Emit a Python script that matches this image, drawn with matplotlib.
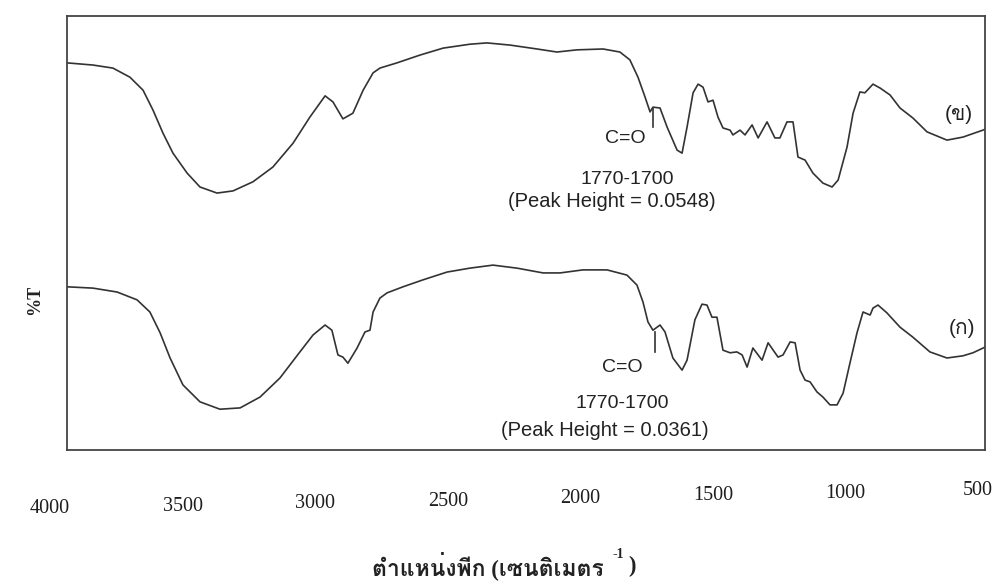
import matplotlib
matplotlib.use("Agg")
import matplotlib.pyplot as plt
import matplotlib.transforms as mtransforms
from matplotlib import font_manager
from matplotlib.ft2font import FT2Font

# ---------------- data ----------------
# upper spectrum (ข)
wn_upper = [4000, 3901, 3825, 3760, 3710, 3672, 3634, 3596, 3542, 3493, 3428, 3367,
            3291, 3215, 3138, 3074, 3016, 2986, 2948, 2910, 2871, 2833, 2807, 2742,
            2654, 2566, 2464, 2399, 2311, 2208, 2132, 2056, 1956, 1892, 1854, 1823,
            1796, 1777, 1766, 1739, 1712, 1674, 1655, 1636, 1613, 1594, 1575, 1556,
            1537, 1518, 1499, 1472, 1461, 1434, 1415, 1388, 1365, 1331, 1301, 1282,
            1255, 1232, 1213, 1186, 1156, 1118, 1083, 1060, 1026, 1003, 977, 958,
            927, 900, 862, 824, 775, 721, 645, 584, 508, 500]
t_upper = [89.2, 88.7, 88.0, 85.9, 82.9, 78.3, 73.0, 68.4, 63.8, 60.6, 59.2, 59.7,
           61.8, 65.2, 70.7, 76.7, 81.6, 80.2, 76.3, 77.6, 82.9, 86.9, 88.0, 89.2,
           91.0, 92.6, 93.5, 93.8, 93.3, 92.4, 91.7, 92.2, 92.4, 91.7, 89.9, 85.9,
           81.3, 77.9, 79.0, 78.8, 74.4, 69.1, 68.4, 74.4, 82.3, 84.3, 83.6, 80.2,
           80.6, 76.7, 74.2, 73.7, 72.6, 73.7, 72.6, 74.9, 71.9, 75.6, 71.9, 71.9,
           75.6, 75.6, 67.5, 66.8, 63.8, 61.5, 60.6, 62.2, 69.8, 77.6, 82.5, 82.3,
           84.3, 83.4, 81.8, 78.8, 76.5, 73.3, 71.4, 72.1, 73.7, 73.9]

# lower spectrum (ก)
wn_lower = [4000, 3901, 3809, 3733, 3684, 3645, 3607, 3558, 3493, 3417, 3340, 3264,
            3188, 3112, 3062, 3016, 2990, 2967, 2948, 2929, 2894, 2864, 2845, 2833,
            2807, 2780, 2719, 2643, 2551, 2464, 2376, 2284, 2185, 2120, 2033, 1941,
            1865, 1827, 1804, 1785, 1766, 1739, 1720, 1690, 1655, 1636, 1606, 1579,
            1560, 1541, 1522, 1499, 1472, 1446, 1426, 1407, 1385, 1350, 1327, 1289,
            1270, 1243, 1224, 1205, 1186, 1167, 1141, 1118, 1091, 1064, 1041, 1015,
            988, 965, 938, 927, 908, 874, 824, 775, 710, 645, 584, 546, 500]
t_lower = [37.6, 37.3, 36.4, 34.6, 31.8, 27.0, 21.2, 15.0, 11.1, 9.4, 9.7, 12.2,
           16.6, 22.6, 26.5, 28.8, 27.6, 21.9, 21.4, 20.0, 23.5, 27.2, 27.6, 31.8,
           35.0, 36.2, 37.6, 39.2, 41.0, 41.9, 42.6, 41.9, 40.8, 40.8, 41.5, 41.5,
           40.3, 38.0, 34.1, 29.5, 27.6, 28.8, 27.2, 21.2, 18.4, 20.7, 30.0, 33.6,
           33.4, 30.6, 30.6, 23.0, 22.4, 22.6, 21.9, 19.1, 23.5, 20.7, 24.7, 21.4,
           21.9, 24.9, 24.7, 18.4, 16.1, 15.7, 13.4, 12.2, 10.4, 10.4, 13.1, 20.0,
           27.0, 31.8, 31.1, 32.7, 33.4, 31.6, 28.3, 26.0, 22.6, 21.2, 21.7, 22.4, 23.7]

# C=O marker segments (wavenumber, T from, T to)
co_marker_wn = [1766, 1758]
co_marker_top = [78.8, 27.2]
co_marker_bot = [74.4, 22.6]

x_ticks = [4000, 3500, 3000, 2500, 2000, 1500, 1000, 500]
x_tick_labels = ["4000", "3500", "3000", "2500", "2000", "1500", "1000", "500"]

curve_labels = ["(ข)", "(ก)"]
peak_texts = ["(Peak Height = 0.0548)", "(Peak Height = 0.0361)"]
range_text = "1770-1700"
co_text = "C=O"
y_label = "%T"
x_label_main = "ตำแหน่งพีก (เซนติเมตร"
x_label_sup = "-1"
x_label_end = ")"


# ---------------- fonts ----------------
def family_with(ch):
    for f in font_manager.fontManager.ttflist:
        try:
            if ord(ch) in FT2Font(f.fname).get_charmap():
                return f.name
        except Exception:
            pass
    return None


thai = family_with("ต")
serif = ["Liberation Serif"] + ([thai] if thai else []) + ["DejaVu Serif"]
sans = ["Liberation Sans"] + ([thai] if thai else []) + ["DejaVu Sans"]

# ---------------- figure ----------------
W, H = 1007, 584
fig = plt.figure(figsize=(W / 100, H / 100), dpi=100)
L, R, T, B = 67, 985, 16, 450
ax = fig.add_axes([L / W, 1 - B / H, (R - L) / W, (B - T) / H])

line_col = "#333333"
ax.plot(wn_upper, t_upper, color=line_col, lw=1.2)
ax.plot(wn_lower, t_lower, color=line_col, lw=1.2)
for w, a, b in zip(co_marker_wn, co_marker_top, co_marker_bot):
    ax.plot([w, w], [a, b], color=line_col, lw=1.2)

ax.set_xlim(4000, 500)
ax.set_ylim(0, 100)
ax.set_yticks([])
ax.set_xticks(x_ticks)
ax.set_xticklabels(x_tick_labels)
ax.tick_params(axis="x", length=0, pad=29, labelsize=14.5, labelcolor="#1e1e1e")
n = len(x_ticks)
for i, lab in enumerate(ax.get_xticklabels()):
    lab.set_fontfamily(serif)
    # the scanned axis is slightly tilted: left labels sit lower than right ones
    dx = -17 + 10 * i / (n - 1)
    dy = -9 + 18 * i / (n - 1)
    off = mtransforms.ScaledTranslation(dx / 100, dy / 100, fig.dpi_scale_trans)
    lab.set_transform(lab.get_transform() + off)
for sp in ax.spines.values():
    sp.set_color("#444444")
    sp.set_linewidth(1.3)

txt_col = "#222222"
fs = 14
# annotations upper
ax.text(1873, 71.7, co_text, ha="center", va="center", fontsize=fs, family=sans, color=txt_col)
ax.text(1865, 62.4, range_text, ha="center", va="center", fontsize=fs, family=sans, color=txt_col)
ax.text(1922, 57.2, peak_texts[0], ha="center", va="center", fontsize=14.5, family=sans, color=txt_col)
ax.text(599, 77.2, curve_labels[0], ha="center", va="center", fontsize=15, family=sans, color=txt_col)
# annotations lower
ax.text(1884, 19.1, co_text, ha="center", va="center", fontsize=fs, family=sans, color=txt_col)
ax.text(1884, 10.8, range_text, ha="center", va="center", fontsize=fs, family=sans, color=txt_col)
ax.text(1949, 4.5, peak_texts[1], ha="center", va="center", fontsize=14.5, family=sans, color=txt_col)
ax.text(588, 27.9, curve_labels[1], ha="center", va="center", fontsize=15, family=sans, color=txt_col)

# axis labels
fig.text(35 / W, 1 - 300 / H, y_label, rotation=90, ha="center", va="center",
         fontsize=13, fontweight="bold", family=serif, color=txt_col)
t1 = fig.text(372 / W, 1 - 566 / H, x_label_main, ha="left", va="center",
              fontsize=16.5, fontweight="bold", family=serif, color=txt_col)
sup = ax.annotate(x_label_sup, xy=(1, 1), xycoords=t1, xytext=(6, -2),
                  textcoords="offset points", ha="left", va="center",
                  fontsize=10, fontweight="bold", family=serif, color=txt_col,
                  annotation_clip=False)
ax.annotate(x_label_end, xy=(1, 0.5), xycoords=t1, xytext=(18, 0),
            textcoords="offset points", ha="left", va="center",
            fontsize=16.5, fontweight="bold", family=serif, color=txt_col,
            annotation_clip=False)

fig.savefig("out.png", dpi=100, facecolor="white")
